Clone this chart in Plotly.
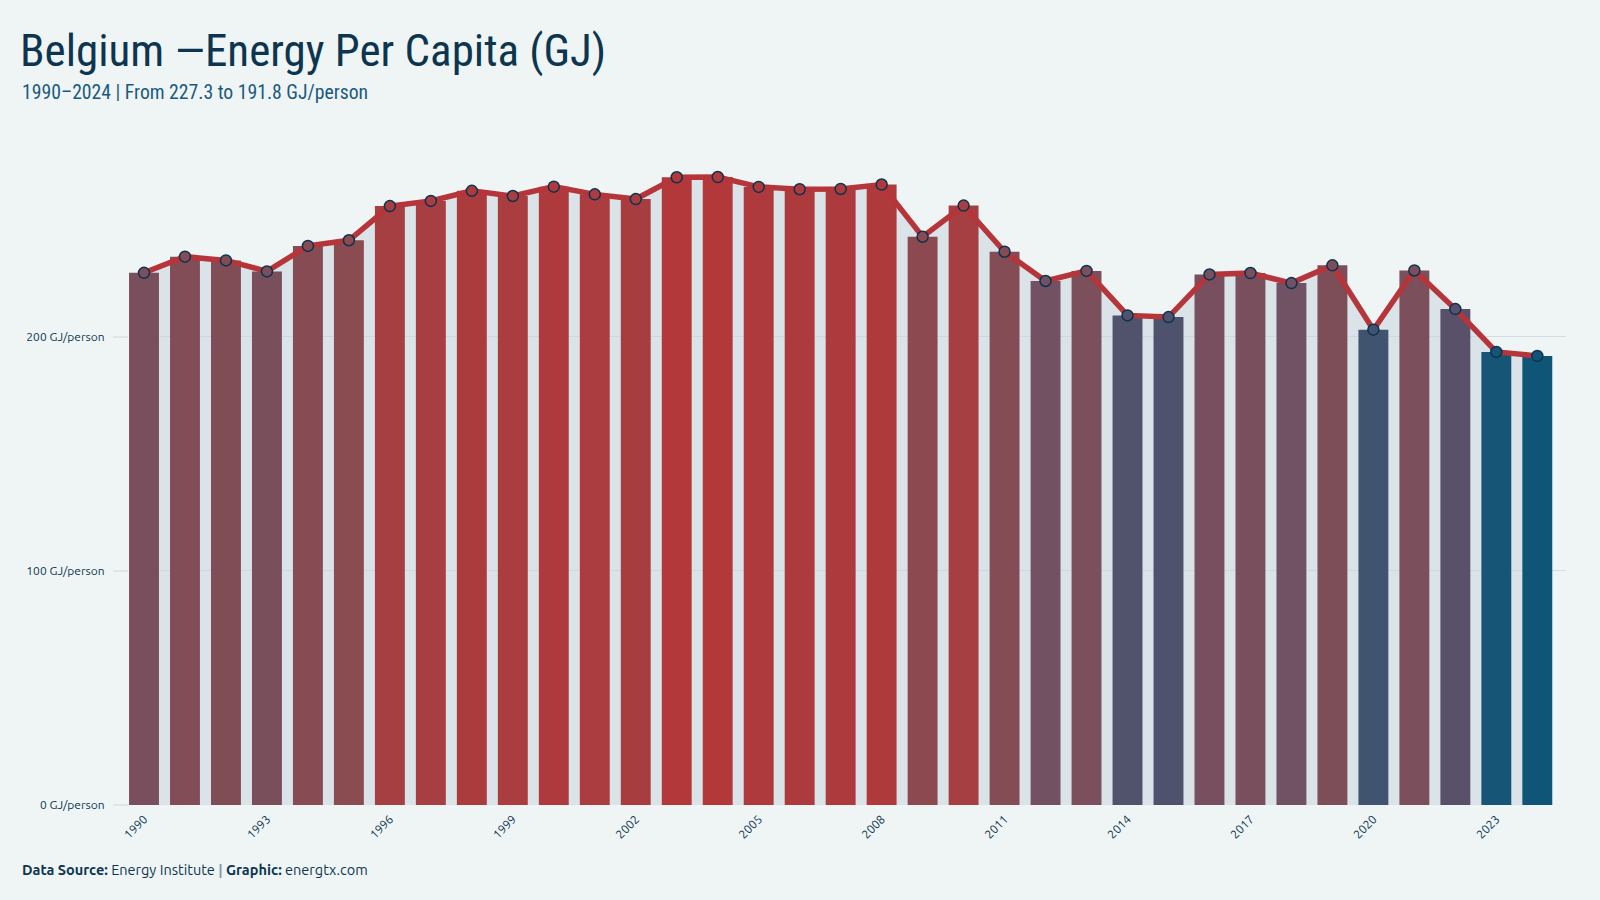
import plotly.graph_objects as go

years = list(range(1990, 2025))
values = [227.3, 234.2, 232.6, 227.9, 238.8, 241.2, 255.8, 258.0, 262.3, 260.1,
          264.1, 260.8, 258.8, 268.1, 268.2, 264.0, 263.0, 263.1, 265.0, 242.7,
          256.0, 236.3, 223.8, 228.1, 209.1, 208.4, 226.6, 227.2, 222.9, 230.5,
          203.0, 228.3, 211.8, 193.5, 191.8]
tick_years = list(range(1990, 2025, 3))
y_ticks = [0, 100, 200]
y_labels = ["0 GJ/person", "100 GJ/person", "200 GJ/person"]

colorscale = [
    [0.0, "#0e5577"], [0.15, "#41546f"], [0.23, "#52526c"], [0.27, "#5b4f69"],
    [0.41, "#715164"], [0.47, "#7a4f5c"], [0.51, "#7e4e58"], [0.67, "#8c4a50"],
    [0.84, "#a53f42"], [1.0, "#b3383a"],
]
vmin, vmax = min(values), max(values)

BG = "#eff5f5"
NAVY = "#0d3550"
GRID = "#d3dde1"
FONT = "Ubuntu Condensed, Liberation Sans Narrow, Roboto Condensed, DejaVu Sans Condensed, Roboto, sans-serif"
FONT2 = "Ubuntu, Noto Sans, Open Sans, sans-serif"

fig = go.Figure()

# area fill (base subplot, below bars)
fig.add_trace(go.Scatter(
    x=years, y=values, mode="lines", fill="tozeroy",
    line=dict(width=0, color="rgba(0,0,0,0)"),
    fillcolor="rgba(201,215,223,0.6)", hoverinfo="skip", showlegend=False,
    xaxis="x", yaxis="y"))

fig.add_trace(go.Bar(
    x=years, y=values,
    marker=dict(color=values, colorscale=colorscale, cmin=vmin, cmax=vmax,
                line=dict(width=0)),
    showlegend=False, xaxis="x2", yaxis="y2"))

fig.add_trace(go.Scatter(
    x=years, y=values, mode="lines+markers",
    line=dict(color="#b5353a", width=5.5),
    marker=dict(size=11, color=values, colorscale=colorscale, cmin=vmin, cmax=vmax,
                line=dict(color="#0b3350", width=1.5)),
    showlegend=False, xaxis="x2", yaxis="y2"))

xr = [1989.634, 2024.7]
yr = [0, 290]
fig.update_layout(
    width=1600, height=900,
    paper_bgcolor=BG, plot_bgcolor=BG,
    margin=dict(l=129, r=34, t=126, b=95),
    bargap=0.27,
    xaxis=dict(range=xr, tickmode="array", tickvals=tick_years,
               ticktext=[str(y) for y in tick_years], tickangle=-45,
               showgrid=False, zeroline=False, showline=False, ticks="",
               ticklabelstandoff=4,
               tickfont=dict(family=FONT2, size=12, color=NAVY)),
    yaxis=dict(range=yr, tickmode="array", tickvals=y_ticks, ticktext=y_labels,
               showgrid=True, gridcolor=GRID, gridwidth=1, zeroline=False,
               ticks="outside", ticklen=15, tickcolor="#dde6e8", tickwidth=2,
               ticklabelstandoff=6,
               tickfont=dict(family=FONT2, size=12, color=NAVY)),
    xaxis2=dict(range=xr, overlaying="x", visible=False, showgrid=False),
    yaxis2=dict(range=yr, overlaying="y", visible=False, showgrid=False),
    title=dict(text="Belgium —Energy Per Capita (GJ)", xref="container", x=20/1600,
               xanchor="left", yref="container", y=1-50/900, yanchor="middle",
               font=dict(family=FONT, size=45, color=NAVY)),
    annotations=[
        dict(text="1990–2024 | From 227.3 to 191.8 GJ/person", xref="paper", yref="paper",
             x=(20-129)/1437, y=1+(126-93)/679, xanchor="left", yanchor="middle",
             showarrow=False, font=dict(family=FONT, size=19.7, color="#1b5a80")),
        dict(text="<b>Data Source:</b> Energy Institute <span style='color:#8a9aa8'><b>|</b></span> <b>Graphic:</b> energtx.com",
             xref="paper", yref="paper", x=(20-129)/1437, y=-(869-805)/679,
             xanchor="left", yanchor="middle", showarrow=False,
             font=dict(family=FONT2, size=14.5, color=NAVY)),
    ],
)

fig.write_html("out.html")
